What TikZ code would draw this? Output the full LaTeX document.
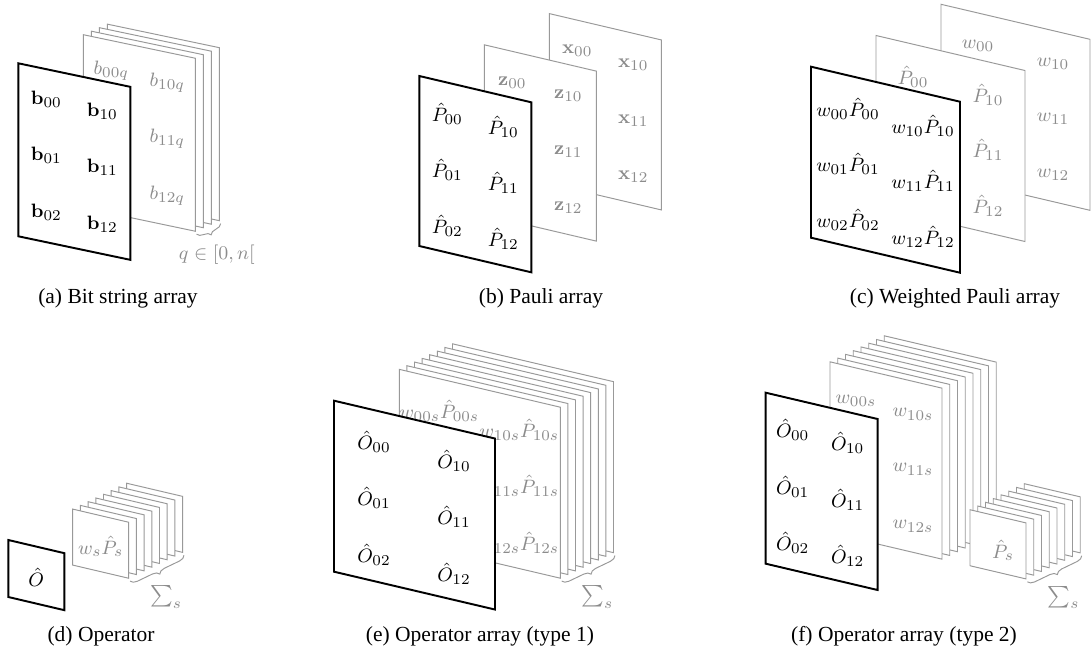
\documentclass[tikz,border=0pt]{standalone}
\usepackage[no-math]{fontspec}
\setmainfont{Liberation Serif}
\newfontfamily\capfont{Liberation Serif}
\usetikzlibrary{decorations.pathreplacing,calc}
\newcommand\mysheet[6]{\draw[#1] (#2,#3,#4) -- ++(#5,0,0) -- ++(0,#6,0) -- ++(-#5,0,0) -- cycle;}
\tikzset{
 blk/.style={draw=black,line width=0.9pt,fill=white},
 gry/.style={draw=black!40,line width=0.45pt,fill=white},
 lab/.style={inner sep=0pt,font=\fontsize{9.3}{11}\selectfont},
 glab/.style={lab,text=black!45},
 brc/.style={draw=black!40,line width=0.45pt,decorate,decoration={brace,mirror,amplitude=3pt,raise=1.5pt}},
 captext/.style={inner sep=0pt,font=\capfont\fontsize{10}{12}\selectfont},
 panelA/.style={x={(0.465pt,-0.0977pt)},y={(0pt,-0.465pt)},z={(0.465pt,0.2046pt)}},
 panel/.style={x={(0.465pt,-0.1093pt)},y={(0pt,-0.465pt)},z={(0.465pt,0.2232pt)}},
}
\begin{document}
\begin{tikzpicture}[x=0.465pt,y=-0.465pt]
\useasboundingbox (0,0) rectangle (1091,654);

% ---------------- (a)
\begin{scope}[shift={(18.3,63.3)},panelA]
\foreach \c in {89,81,73,65} {\mysheet{gry}{0}{0}{\c}{112}{173}}
\node[glab] (a-g00) at (28,30,65) {$b_{00q}$};
\node[glab] (a-g10) at (84,30,65) {$b_{10q}$};
\node[glab] (a-g11) at (84,86,65) {$b_{11q}$};
\node[glab] (a-g12) at (84,143,65) {$b_{12q}$};
\mysheet{blk}{0}{0}{0}{112}{173}
\node[lab] (a-b00) at (28,30,0) {$\mathbf{b}_{00}$};
\node[lab] (a-b10) at (84,30,0) {$\mathbf{b}_{10}$};
\node[lab] (a-b01) at (28,86,0) {$\mathbf{b}_{01}$};
\node[lab] (a-b11) at (84,86,0) {$\mathbf{b}_{11}$};
\node[lab] (a-b02) at (28,143,0) {$\mathbf{b}_{02}$};
\node[lab] (a-b12) at (84,143,0) {$\mathbf{b}_{12}$};
\coordinate (a-br1) at (112,173,65);
\coordinate (a-br2) at (112,173,89);
\draw[brc] (a-br1) -- (a-br2);
\node[glab] (a-q) at ($(a-br1)!0.5!(a-br2)+(4.4pt,-13.5pt)$) {$q\in[0,n[$};
\end{scope}

% ---------------- (b)
\begin{scope}[shift={(419.3,76)},panel]
\mysheet{gry}{0}{0}{130}{112}{170}
\node[glab] (b-x00) at (28,31,130) {$\mathbf{x}_{00}$};
\node[glab] (b-x10) at (84,31,130) {$\mathbf{x}_{10}$};
\node[glab] (b-x11) at (84,87,130) {$\mathbf{x}_{11}$};
\node[glab] (b-x12) at (84,143,130) {$\mathbf{x}_{12}$};
\mysheet{gry}{0}{0}{65}{112}{170}
\node[glab] (b-z00) at (28,31,65) {$\mathbf{z}_{00}$};
\node[glab] (b-z10) at (84,31,65) {$\mathbf{z}_{10}$};
\node[glab] (b-z11) at (84,87,65) {$\mathbf{z}_{11}$};
\node[glab] (b-z12) at (84,143,65) {$\mathbf{z}_{12}$};
\mysheet{blk}{0}{0}{0}{112}{170}
\node[lab] (b-p00) at (28,31,0) {$\hat{P}_{00}$};
\node[lab] (b-p10) at (84,31,0) {$\hat{P}_{10}$};
\node[lab] (b-p01) at (28,87,0) {$\hat{P}_{01}$};
\node[lab] (b-p11) at (84,87,0) {$\hat{P}_{11}$};
\node[lab] (b-p02) at (28,143,0) {$\hat{P}_{02}$};
\node[lab] (b-p12) at (84,143,0) {$\hat{P}_{12}$};
\end{scope}

% ---------------- (c)
\begin{scope}[shift={(811,66.7)},panel]
\mysheet{gry}{0}{0}{130}{149}{171}
\node[glab] (c-w00) at (37,33,130) {$w_{00}$};
\node[glab] (c-w10) at (112,33,130) {$w_{10}$};
\node[glab] (c-w11) at (112,88,130) {$w_{11}$};
\node[glab] (c-w12) at (112,144,130) {$w_{12}$};
\mysheet{gry}{0}{0}{65}{149}{171}
\node[glab] (c-p00) at (37,33,65) {$\hat{P}_{00}$};
\node[glab] (c-p10) at (112,33,65) {$\hat{P}_{10}$};
\node[glab] (c-p11) at (112,88,65) {$\hat{P}_{11}$};
\node[glab] (c-p12) at (112,144,65) {$\hat{P}_{12}$};
\mysheet{blk}{0}{0}{0}{149}{171}
\node[lab] (c-b00) at (37,33,0) {$w_{00}\hat{P}_{00}$};
\node[lab] (c-b10) at (112,33,0) {$w_{10}\hat{P}_{10}$};
\node[lab] (c-b01) at (37,88,0) {$w_{01}\hat{P}_{01}$};
\node[lab] (c-b11) at (112,88,0) {$w_{11}\hat{P}_{11}$};
\node[lab] (c-b02) at (37,144,0) {$w_{02}\hat{P}_{02}$};
\node[lab] (c-b12) at (112,144,0) {$w_{12}\hat{P}_{12}$};
\end{scope}

% ---------------- (d)
\begin{scope}[shift={(8.3,540)},panel]
\foreach \k in {7,6,5,4,3,2,1,0} {\mysheet{gry}{0}{0}{64.4+7.7*\k}{56}{56}}
\node[glab] (d-ws) at (28,31,64.4) {$w_s\hat{P}_s$};
\mysheet{blk}{0}{0}{0}{56}{57}
\node[lab] (d-o) at (28,31,0) {$\hat{O}$};
\coordinate (d-br1) at (56,56,64.4);
\coordinate (d-br2) at (56,56,118.3);
\draw[brc] (d-br1) -- (d-br2);
\node[glab] (d-sum) at ($(d-br1)!0.5!(d-br2)+(4.9pt,-14.7pt)$) {$\sum_s$};
\end{scope}

% ---------------- (e)
\begin{scope}[shift={(334,400.7)},panel]
\foreach \k in {7,6,5,4,3,2,1,0} {\mysheet{gry}{0}{0}{65.3+7.6*\k}{161}{171}}
\node[glab] (e-g00) at (40,32,65.3) {$w_{00s}\hat{P}_{00s}$};
\node[glab] (e-g10) at (120,32,65.3) {$w_{10s}\hat{P}_{10s}$};
\node[glab] (e-g11) at (120,88,65.3) {$w_{11s}\hat{P}_{11s}$};
\node[glab] (e-g12) at (120,145,65.3) {$w_{12s}\hat{P}_{12s}$};
\mysheet{blk}{0}{0}{0}{161}{171}
\node[lab] (e-o00) at (40,32,0) {$\hat{O}_{00}$};
\node[lab] (e-o10) at (120,32,0) {$\hat{O}_{10}$};
\node[lab] (e-o01) at (40,88,0) {$\hat{O}_{01}$};
\node[lab] (e-o11) at (120,88,0) {$\hat{O}_{11}$};
\node[lab] (e-o02) at (40,145,0) {$\hat{O}_{02}$};
\node[lab] (e-o12) at (120,145,0) {$\hat{O}_{12}$};
\coordinate (e-br1) at (161,171,65.3);
\coordinate (e-br2) at (161,171,118.5);
\draw[brc] (e-br1) -- (e-br2);
\node[glab] (e-sum) at ($(e-br1)!0.5!(e-br2)+(4.9pt,-14.7pt)$) {$\sum_s$};
\end{scope}

% ---------------- (f)
\begin{scope}[shift={(765.7,392.7)},panel]
\foreach \k in {7,6,5,4,3,2,1,0} {
  \mysheet{gry}{0}{0}{64.3+7.75*\k}{112}{171}
  \mysheet{gry}{140}{115}{64.3+7.75*\k}{56}{56}
}
\node[glab] (f-w00) at (26,33,64.3) {$w_{00s}$};
\node[glab] (f-w10) at (83,33,64.3) {$w_{10s}$};
\node[glab] (f-w11) at (83,88,64.3) {$w_{11s}$};
\node[glab] (f-w12) at (83,145,64.3) {$w_{12s}$};
\node[glab] (f-ps) at (173,148,64.3) {$\hat{P}_s$};
\mysheet{blk}{0}{0}{0}{112}{171}
\node[lab] (f-o00) at (27,31,0) {$\hat{O}_{00}$};
\node[lab] (f-o10) at (82,31,0) {$\hat{O}_{10}$};
\node[lab] (f-o01) at (27,88,0) {$\hat{O}_{01}$};
\node[lab] (f-o11) at (82,88,0) {$\hat{O}_{11}$};
\node[lab] (f-o02) at (27,144,0) {$\hat{O}_{02}$};
\node[lab] (f-o12) at (82,144,0) {$\hat{O}_{12}$};
\coordinate (f-br1) at (196,171,64.3);
\coordinate (f-br2) at (196,171,118.6);
\draw[brc] (f-br1) -- (f-br2);
\node[glab] (f-sum) at ($(f-br1)!0.5!(f-br2)+(4.9pt,-14.7pt)$) {$\sum_s$};
\end{scope}

% ---------------- captions
\node[captext] (cap-a) at (118,298) {(a) Bit string array};
\node[captext] (cap-b) at (541,298) {(b) Pauli array};
\node[captext] (cap-c) at (955,298) {(c) Weighted Pauli array};
\node[captext] (cap-d) at (101,636) {(d) Operator};
\node[captext] (cap-e) at (480,636) {(e) Operator array (type 1)};
\node[captext] (cap-f) at (904,636) {(f) Operator array (type 2)};
\end{tikzpicture}
\end{document}
